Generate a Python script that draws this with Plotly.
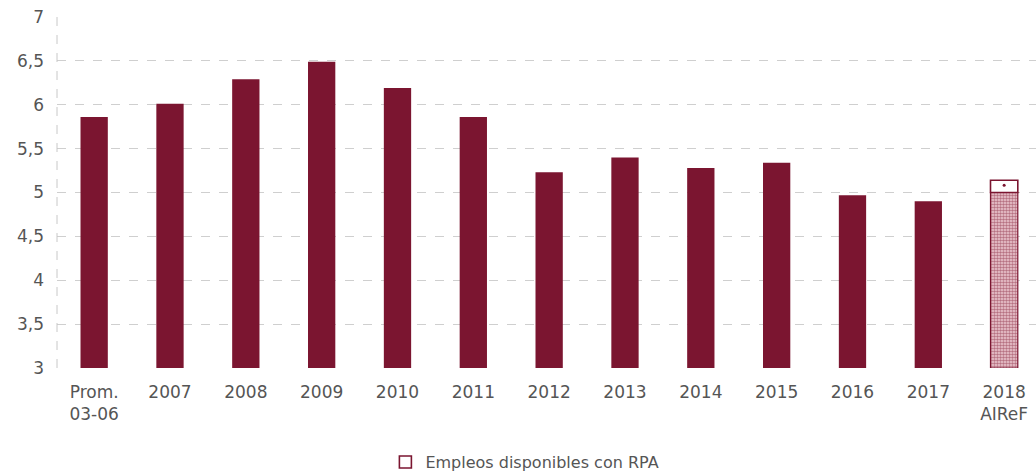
import plotly.graph_objects as go

categories = ["Prom.<br>03-06", "2007", "2008", "2009", "2010", "2011", "2012",
              "2013", "2014", "2015", "2016", "2017", "2018<br>AIReF"]
values = [5.86, 6.01, 6.29, 6.49, 6.19, 5.86, 5.23, 5.40, 5.28, 5.34, 4.97, 4.90, None]
forecast_base = 5.00   # 2018 AIReF estimate (hatched)
rpa_extra = 0.14       # Empleos disponibles con RPA
y_ticks = [3, 3.5, 4, 4.5, 5, 5.5, 6, 6.5, 7]
y_tick_text = ["3", "3,5", "4", "4,5", "5", "5,5", "6", "6,5", "7"]

RED = "#7b1530"
FONT = "DejaVu Sans, Verdana, sans-serif"
x = list(range(len(categories)))
last = x[-1]

fig = go.Figure()
fig.add_trace(go.Bar(
    x=x[:-1], y=[v - 3 for v in values[:-1]], base=3,
    marker=dict(color=RED, line=dict(width=0)),
    width=0.36, showlegend=False,
))
fig.add_trace(go.Bar(
    x=[last], y=[forecast_base - 3], base=3,
    marker=dict(color="#f0cdd5", line=dict(color=RED, width=1.2),
                pattern=dict(shape=".", fgcolor=RED, bgcolor="#f0cdd5",
                             size=3, solidity=0.55)),
    width=0.36, showlegend=False,
))
fig.add_trace(go.Bar(
    x=[last], y=[rpa_extra], base=forecast_base,
    marker=dict(color="white", line=dict(color=RED, width=1.6)),
    width=0.36, name="Empleos disponibles con RPA", showlegend=True,
))
fig.add_trace(go.Scatter(
    x=[last], y=[forecast_base + rpa_extra * 0.6], mode="markers",
    marker=dict(color=RED, size=3), showlegend=False, hoverinfo="skip",
))

# dashed left edge of the plot area
fig.add_shape(type="line", xref="paper", yref="y", x0=0, x1=0, y0=3, y1=7,
              line=dict(color="#c8c8c8", width=1, dash="dash"))

fig.update_layout(
    width=1036, height=475,
    margin=dict(l=57, r=0, t=17, b=107),
    plot_bgcolor="white", paper_bgcolor="white",
    barmode="overlay",
    font=dict(family=FONT, color="#555555", size=16),
    xaxis=dict(range=[-0.49, 12.42], tickvals=x, ticktext=categories,
               showgrid=False, zeroline=False, showline=False, ticks="",
               ticklabelstandoff=12,
               tickfont=dict(family=FONT, size=17, color="#555555")),
    yaxis=dict(range=[3, 7], tickvals=y_ticks, ticktext=y_tick_text,
               showgrid=True, gridcolor="#cfcfcf", griddash="dash", gridwidth=1,
               zeroline=False, showline=False, ticks="", ticklabelstandoff=12,
               tickfont=dict(family=FONT, size=17, color="#555555")),
    legend=dict(orientation="h", xref="container", yref="container",
                x=0.372, xanchor="left", y=0.027, yanchor="middle",
                font=dict(family=FONT, size=16, color="#555555"), itemwidth=30),
)

fig.write_html("out.html")
